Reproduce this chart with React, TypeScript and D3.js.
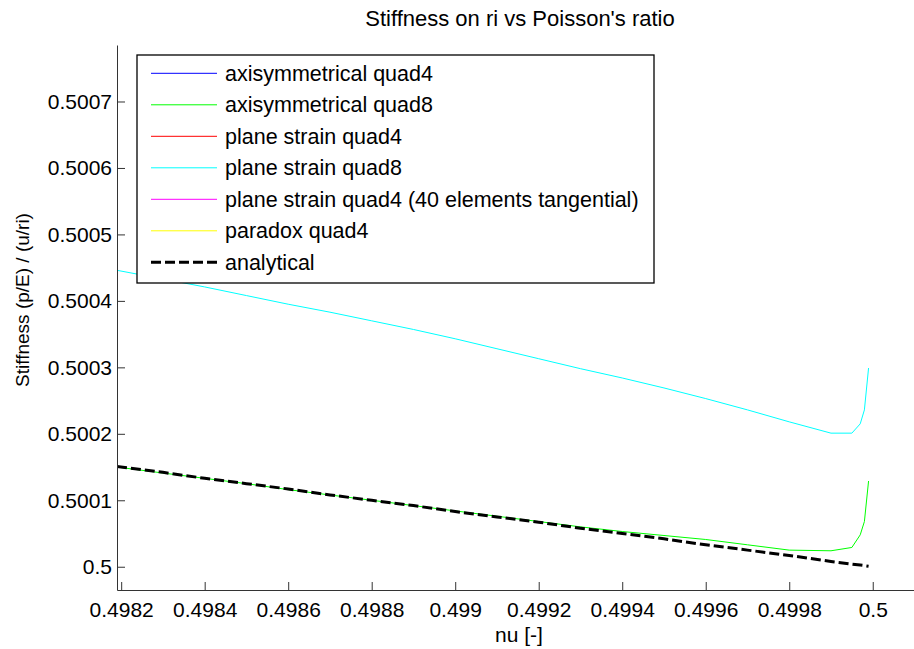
import React, { useEffect, useRef } from "react";
import * as d3 from "d3";

// Poisson's ratio samples
const NU = [
  0.49819, 0.4983, 0.4984, 0.4985, 0.4986, 0.4987, 0.4988, 0.4989, 0.499,
  0.4991, 0.4992, 0.4993, 0.4994, 0.4995, 0.4996, 0.4997, 0.4998, 0.4999,
  0.49995, 0.49997, 0.49998, 0.49999,
];

// Stiffness (p/E)/(u/ri) per element formulation
const PLANE_STRAIN_QUAD8 = [
  0.500446, 0.500433, 0.500421, 0.500408, 0.500395, 0.500383, 0.50037,
  0.500357, 0.500343, 0.500328, 0.500313, 0.500298, 0.500284, 0.500269,
  0.500253, 0.500236, 0.500218, 0.500201, 0.500201, 0.500215, 0.500236,
  0.500299,
];
const AXISYM_QUAD8 = [
  0.50015, 0.500141, 0.500133, 0.500125, 0.500116, 0.500108, 0.5001,
  0.500092, 0.500084, 0.500076, 0.500068, 0.50006, 0.500053, 0.500047,
  0.500041, 0.500033, 0.500025, 0.500024, 0.500029, 0.500048, 0.500068,
  0.500129,
];
const ANALYTICAL = [
  0.500151, 0.500142, 0.500133, 0.500125, 0.500117, 0.500108, 0.5001,
  0.500092, 0.500083, 0.500075, 0.500067, 0.500058, 0.50005, 0.500042,
  0.500033, 0.500025, 0.500017, 0.500008, 0.500004, 0.5000025, 0.5000017,
  0.5000008,
];

const LEGEND_NAMES = [
  "axisymmetrical quad4",
  "axisymmetrical quad8",
  "plane strain quad4",
  "plane strain quad8",
  "plane strain quad4 (40 elements tangential)",
  "paradox quad4",
  "analytical",
];
const LEGEND_COLORS = ["#0000ff", "#00ff00", "#ff0000", "#00ffff", "#ff00ff", "#ffff00", "#000000"];

const X_TICKS = [0.4982, 0.4984, 0.4986, 0.4988, 0.499, 0.4992, 0.4994, 0.4996, 0.4998, 0.5];
const X_TICK_LABELS = ["0.4982", "0.4984", "0.4986", "0.4988", "0.499", "0.4992", "0.4994", "0.4996", "0.4998", "0.5"];
const Y_TICKS = [0.5, 0.5001, 0.5002, 0.5003, 0.5004, 0.5005, 0.5006, 0.5007];
const Y_TICK_LABELS = ["0.5", "0.5001", "0.5002", "0.5003", "0.5004", "0.5005", "0.5006", "0.5007"];

const W = 914;
const H = 649;
const FONT = "'Liberation Sans', Arial, Helvetica, sans-serif";

export default function App() {
  const ref = useRef<SVGSVGElement | null>(null);

  useEffect(() => {
    const svg = d3.select(ref.current);
    svg.selectAll("*").remove();

    const left = 117, right = 914.5, top = 45, bottom = 590;
    const x = d3.scaleLinear().domain([0.49819, 0.5001]).range([left, right]);
    const y = d3.scaleLinear().domain([0.499965, 0.500785]).range([bottom, top]);

    svg.append("rect").attr("width", W).attr("height", H).attr("fill", "#fff");

    svg.append("defs").append("clipPath").attr("id", "plotclip")
      .append("rect").attr("x", left).attr("y", top).attr("width", right - left).attr("height", bottom - top);

    const line = d3.line<number>().x((_, i) => x(NU[i])).y((d) => y(d));
    const plot = svg.append("g").attr("clip-path", "url(#plotclip)");

    const series = [
      { values: AXISYM_QUAD8, color: "#00ff00", width: 1, dash: null },
      { values: PLANE_STRAIN_QUAD8, color: "#00ffff", width: 1, dash: null },
      { values: ANALYTICAL, color: "#000000", width: 3, dash: "10,4" },
    ];
    series.forEach((s) => {
      plot.append("path")
        .attr("d", line(s.values))
        .attr("fill", "none")
        .attr("stroke", s.color)
        .attr("stroke-width", s.width)
        .attr("stroke-dasharray", s.dash);
    });

    // axes with inward ticks
    const xAxis = d3.axisBottom(x).tickValues(X_TICKS)
      .tickFormat((_, i) => X_TICK_LABELS[i]).tickSizeInner(-8).tickSizeOuter(0).tickPadding(12);
    const yAxis = d3.axisLeft(y).tickValues(Y_TICKS)
      .tickFormat((_, i) => Y_TICK_LABELS[i]).tickSizeInner(-8).tickSizeOuter(0).tickPadding(5);

    const gx = svg.append("g").attr("transform", `translate(0,${bottom})`).call(xAxis);
    const gy = svg.append("g").attr("transform", `translate(${left},0)`).call(yAxis);
    [gx, gy].forEach((g) => {
      g.selectAll(".domain").attr("stroke", "#333").attr("stroke-width", 1);
      g.selectAll(".tick line").attr("stroke", "#333");
      g.selectAll(".tick text").attr("fill", "#000").style("font-family", FONT).style("font-size", "21px");
    });

    // legend
    const lg = svg.append("g");
    lg.append("rect").attr("x", 137).attr("y", 55).attr("width", 517).attr("height", 228)
      .attr("fill", "#fff").attr("stroke", "#000").attr("stroke-width", 1.3);
    LEGEND_NAMES.forEach((name, i) => {
      const cy = 73.3 + i * 31.5;
      lg.append("line").attr("x1", 151).attr("x2", 217).attr("y1", cy).attr("y2", cy)
        .attr("stroke", LEGEND_COLORS[i])
        .attr("stroke-width", i === 6 ? 3 : 1)
        .attr("stroke-dasharray", i === 6 ? "10,4" : null);
      lg.append("text").attr("x", 225).attr("y", cy).attr("dy", "0.35em")
        .style("font-family", FONT).style("font-size", "21.5px").attr("fill", "#000").text(name);
    });

    // titles
    svg.append("text").attr("x", 520).attr("y", 26).attr("text-anchor", "middle")
      .style("font-family", FONT).style("font-size", "22px").text("Stiffness on ri vs Poisson's ratio");
    svg.append("text").attr("x", 519).attr("y", 642).attr("text-anchor", "middle")
      .style("font-family", FONT).style("font-size", "21px").text("nu [-]");
    svg.append("text").attr("transform", `translate(29,300) rotate(-90)`).attr("text-anchor", "middle")
      .style("font-family", FONT).style("font-size", "19px").text("Stiffness (p/E) / (u/ri)");
  }, []);

  return (
    <svg ref={ref} width={W} height={H} style={{ position: "absolute", left: 0, top: 0, display: "block" }} />
  );
}
